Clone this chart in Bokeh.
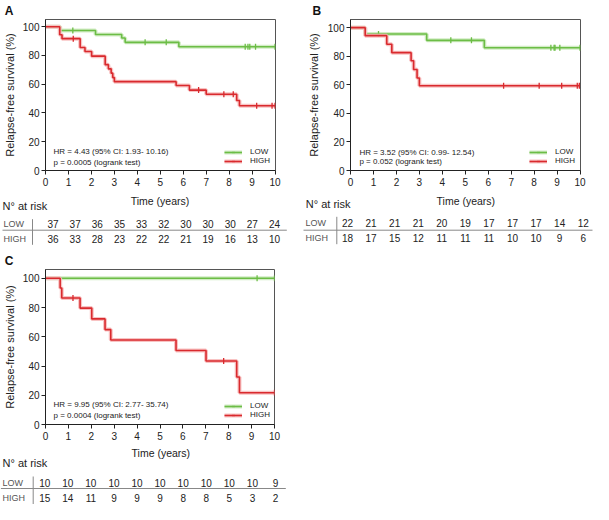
import numpy as np
from bokeh.plotting import figure
from bokeh.layouts import column, row
from bokeh.models import Range1d, FixedTicker, Legend, LegendItem, Label
from bokeh.embed import file_html
from bokeh.resources import INLINE
from bokeh.core.properties import value

FONT = "Liberation Sans"
GREEN = "#6CBD46"
RED = "#D92A2E"
GREEN_HALO = "#CDEABF"
RED_HALO = "#F7BDBD"

TIME_TICKS = list(range(11))
Y_TICKS = [0, 20, 40, 60, 80, 100]
GROUPS = ["LOW", "HIGH"]

# ---------------- Panel A ----------------
A_low_t = [0.64, 2.18, 3.32, 3.47, 5.81]
A_low_s = [97.3, 94.6, 92.1, 89.1, 86.1]
A_low_cens = [1.19, 4.34, 5.26, 8.70, 8.82, 8.90, 9.15, 10.0]
A_high_t = [0.62, 0.72, 1.51, 1.72, 2.01, 2.60, 2.74, 2.86, 2.93, 3.00, 5.69, 6.27, 7.00, 8.33, 8.45]
A_high_s = [94.4, 91.7, 85.5, 82.7, 79.5, 73.6, 70.7, 67.7, 64.6, 61.8, 59.1, 55.9, 53.0, 48.7, 45.0]
A_high_cens = [1.21, 6.67, 7.77, 8.18, 9.20, 9.87, 10.0]
A_risk_low = [37, 37, 36, 35, 33, 32, 30, 30, 30, 27, 24]
A_risk_high = [36, 33, 28, 23, 22, 22, 21, 19, 16, 13, 10]
A_hr = "HR = 4.43 (95% CI: 1.93- 10.16)"
A_p = "p = 0.0005 (logrank test)"

# ---------------- Panel B ----------------
B_low_t = [0.64, 3.32, 5.83]
B_low_s = [95.5, 91.1, 85.9]
B_low_cens = [1.22, 4.37, 5.27, 8.73, 8.87, 8.91, 9.12, 10.0]
B_high_t = [0.64, 1.58, 1.80, 2.64, 2.75, 2.90, 3.00]
B_high_s = [94.4, 88.4, 82.5, 76.8, 70.7, 64.8, 59.3]
B_high_cens = [6.67, 8.22, 9.20, 9.88, 9.97]
B_risk_low = [22, 21, 21, 21, 20, 19, 17, 17, 17, 14, 12]
B_risk_high = [18, 17, 15, 12, 11, 11, 11, 10, 10, 9, 6]
B_hr = "HR = 3.52 (95% CI: 0.99- 12.54)"
B_p = "p = 0.052 (logrank test)"

# ---------------- Panel C ----------------
C_low_t = []
C_low_s = []
C_low_cens = [9.24, 10.0]
C_high_t = [0.64, 0.71, 1.51, 2.02, 2.60, 2.85, 5.70, 7.01, 8.35, 8.47]
C_high_s = [93.3, 86.5, 79.6, 72.2, 64.9, 57.8, 50.6, 43.4, 32.5, 21.7]
C_high_cens = [1.20, 7.78, 10.0]
C_risk_low = [10, 10, 10, 10, 10, 10, 10, 10, 10, 10, 9]
C_risk_high = [15, 14, 11, 9, 9, 9, 8, 8, 5, 3, 2]
C_hr = "HR = 9.95 (95% CI: 2.77- 35.74)"
C_p = "p = 0.0004 (logrank test)"


def step_arrays(t, s, t_end=10.0):
    xs = [0.0] + list(t) + [t_end]
    ys = [100.0] + list(s) + [([100.0] + list(s))[-1]]
    return xs, ys


def surv_at(xs, ys, tc):
    idx = np.searchsorted(np.array(xs), np.array(tc), side="right") - 1
    idx = np.clip(idx, 0, len(ys) - 1)
    return [ys[i] for i in idx]


def km_figure(letter, curves, hr, pv, width, height, mb, x_end, y_end,
              letter_off, label_standoff, hr_xy, legend_xy):
    p = figure(width=width, height=height, output_backend="svg", toolbar_location=None,
               x_range=Range1d(0, x_end), y_range=Range1d(0, y_end),
               min_border_left=mb[0], min_border_right=mb[1],
               min_border_top=mb[2], min_border_bottom=mb[3])
    p.background_fill_color = "white"
    p.border_fill_color = "white"
    p.outline_line_color = "#555555"
    p.outline_line_width = 1
    p.xgrid.visible = False
    p.ygrid.visible = False

    p.title.text = letter
    p.title.align = "left"
    p.title.offset = letter_off
    p.title.standoff = 3
    p.title.text_font = FONT
    p.title.text_font_size = "12px"
    p.title.text_font_style = "bold"
    p.title.text_color = "#111111"

    for ax in (p.xaxis[0], p.yaxis[0]):
        ax.axis_line_color = "#222222"
        ax.major_tick_line_color = "#222222"
        ax.major_tick_out = 4
        ax.major_tick_in = 0
        ax.minor_tick_line_color = None
        ax.major_label_text_font = FONT
        ax.major_label_text_font_size = "10px"
        ax.major_label_text_color = "#222222"
    p.xaxis.ticker = FixedTicker(ticks=TIME_TICKS)
    p.yaxis.ticker = FixedTicker(ticks=Y_TICKS)
    p.xaxis.major_label_standoff = 3
    p.yaxis.major_label_standoff = 2
    p.yaxis.axis_label = "Relapse-free survival (%)"
    p.yaxis.axis_label_text_font = FONT
    p.yaxis.axis_label_text_font_size = "11px"
    p.yaxis.axis_label_text_font_style = "normal"
    p.yaxis.axis_label_text_color = "#222222"
    p.yaxis.axis_label_standoff = label_standoff

    items = []
    for name, (t, s, cens), col, halo in zip(GROUPS, curves, [GREEN, RED], [GREEN_HALO, RED_HALO]):
        xs, ys = step_arrays(t, s)
        r_halo = p.step(xs, ys, mode="after", line_color=halo, line_width=4, line_alpha=0.9)
        r_line = p.step(xs, ys, mode="after", line_color=col, line_width=1.6)
        cy = surv_at(xs, ys, cens)
        r_c = p.scatter(cens, cy, marker="dash", angle=np.pi / 2, size=6,
                        line_color=col, line_width=1.3)
        items.append(LegendItem(label=name, renderers=[r_halo, r_line, r_c]))

    leg = Legend(items=items, location=legend_xy, orientation="vertical",
                 glyph_width=18, glyph_height=8, label_height=8, label_standoff=8,
                 spacing=0, padding=0, margin=0,
                 label_text_font=FONT, label_text_font_size="8px",
                 label_text_color="#222222",
                 border_line_alpha=0, background_fill_alpha=0)
    p.add_layout(leg, "center")

    p.add_layout(Label(x=hr_xy[0], y=hr_xy[1], text=hr, text_font=FONT,
                       text_font_size="8px", text_baseline="middle", text_color="#222222"))
    p.add_layout(Label(x=hr_xy[0], y=hr_xy[2], text=pv, text_font=FONT,
                       text_font_size="8px", text_baseline="middle", text_color="#222222"))
    return p


def risk_table(low, high, width, height, t0px, t10px, rows_y, hline, vline,
               label_px, nat_px, time_px):
    per = (t10px - t0px) / 10.0
    x0 = -t0px / per
    x1 = (width - t0px) / per

    def dx(px):
        return (px - t0px) / per

    p = figure(width=width, height=height, output_backend="svg", toolbar_location=None,
               x_range=Range1d(x0, x1), y_range=Range1d(height, 0),
               min_border=0, x_axis_location=None, y_axis_location=None)
    p.outline_line_color = None
    p.xgrid.visible = False
    p.ygrid.visible = False
    p.background_fill_color = "white"
    p.border_fill_color = "white"

    p.text(x=TIME_TICKS, y=[rows_y[0]] * len(TIME_TICKS), text=[str(v) for v in low],
           text_align="center", text_baseline="middle", text_font=value(FONT),
           text_font_size="10px", text_color="#222222")
    p.text(x=TIME_TICKS, y=[rows_y[1]] * len(TIME_TICKS), text=[str(v) for v in high],
           text_align="center", text_baseline="middle", text_font=value(FONT),
           text_font_size="10px", text_color="#222222")
    p.text(x=[dx(label_px)] * 2, y=list(rows_y), text=GROUPS,
           text_align="left", text_baseline="middle", text_font=value(FONT),
           text_font_size="9px", text_color="#555555")
    p.segment(x0=[dx(hline[0])], y0=[hline[2]], x1=[dx(hline[1])], y1=[hline[2]],
              line_color="#888888", line_width=1)
    p.segment(x0=[dx(vline[0])], y0=[vline[1]], x1=[dx(vline[0])], y1=[vline[2]],
              line_color="#888888", line_width=1)
    p.text(x=[dx(nat_px[0])], y=[nat_px[1]], text=["N° at risk"], text_align="left",
           text_baseline="middle", text_font=value(FONT), text_font_size="11px",
           text_color="#222222")
    p.text(x=[dx(time_px[0])], y=[time_px[1]], text=["Time (years)"], text_align="center",
           text_baseline="middle", text_font=value(FONT), text_font_size="10.5px",
           text_color="#222222")
    return p


pA = km_figure("A", [(A_low_t, A_low_s, A_low_cens), (A_high_t, A_high_s, A_high_cens)],
               A_hr, A_p, 297, 192, (45, 22, 16, 22), 10.02, 105.0,
               -40.7, 4, (0.35, 13.2, 5.9), (179, 5))
pB = km_figure("B", [(B_low_t, B_low_s, B_low_cens), (B_high_t, B_high_s, B_high_cens)],
               B_hr, B_p, 296, 192, (53, 13, 16, 21), 10.02, 105.7,
               -38, 5, (0.39, 12.7, 6.6), (179, 5))
pC = km_figure("C", [(C_low_t, C_low_s, C_low_cens), (C_high_t, C_high_s, C_high_cens)],
               C_hr, C_p, 297, 195, (45, 23, 18, 21), 10.0, 106.0,
               -40.7, 4, (0.35, 13.9, 6.4), (179, 5))

tA = risk_table(A_risk_low, A_risk_high, 297, 58, 52.5, 274.0, (31, 46.7),
                (2, 286.3, 37.7), (32, 26.7, 52.3), 3, (2, 13.3), (159.5, 8.3))
tB = risk_table(B_risk_low, B_risk_high, 296, 58, 50.0, 285.7, (30, 45.7),
                (6, 295, 37.7), (39.3, 24.3, 51.7), 8, (8.3, 11.7), (168.3, 8.3))
tC = risk_table(C_risk_low, C_risk_high, 297, 59, 44.2, 275.0, (37, 52.7),
                (0.3, 285.3, 43), (32.7, 31, 58.7), 2, (2, 17), (160.3, 7))

layout = column(row(pA, pB), row(tA, tB), row(pC), row(tC))

open("out.html", "w").write(file_html(layout, INLINE))
